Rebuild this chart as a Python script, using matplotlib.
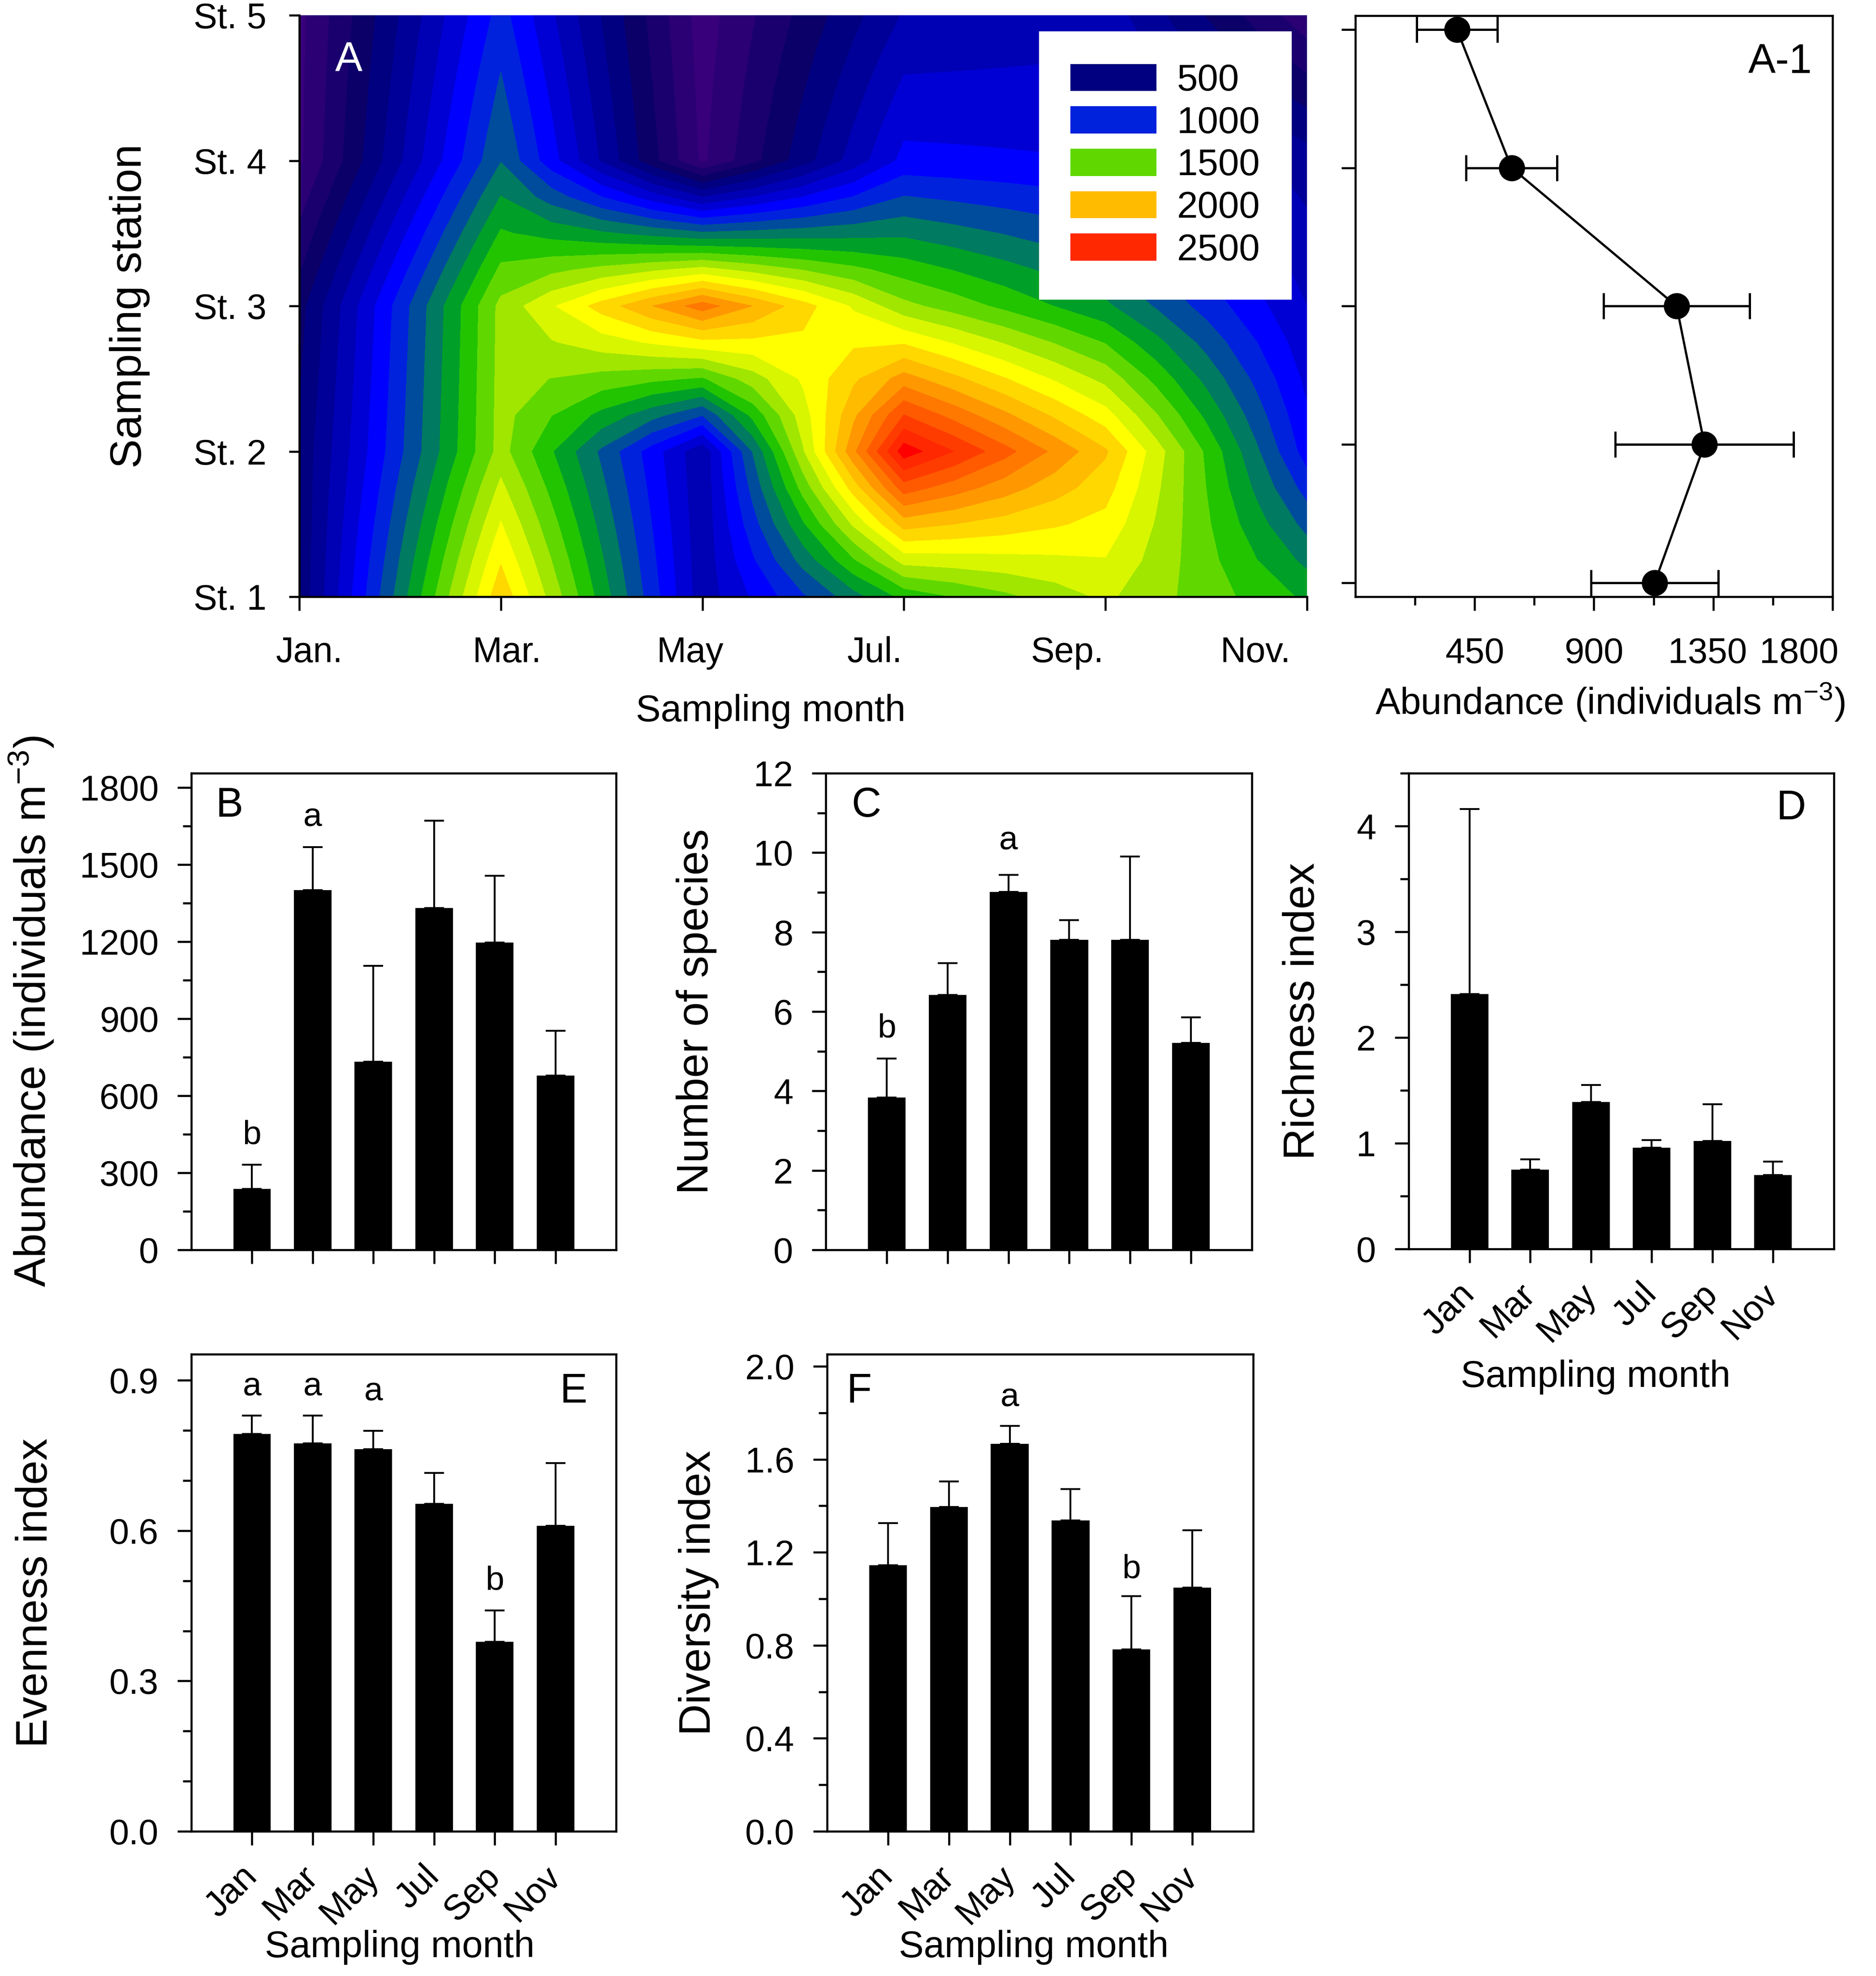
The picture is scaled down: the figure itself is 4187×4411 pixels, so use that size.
import numpy as np
import matplotlib
matplotlib.use('Agg')
import matplotlib.pyplot as plt
import matplotlib.transforms as mtransforms
from matplotlib.patches import Patch
from matplotlib.ticker import MultipleLocator

plt.rcParams['font.family'] = ['Liberation Sans', 'DejaVu Sans']
plt.rcParams['mathtext.fontset'] = 'custom'
plt.rcParams['mathtext.rm'] = 'Liberation Sans'
plt.rcParams['mathtext.default'] = 'regular'
plt.rcParams['axes.linewidth'] = 1.1

# ---- data ----
months = ['Jan', 'Mar', 'May', 'Jul', 'Sep', 'Nov']
month_ticks_a = ['Jan.', 'Mar.', 'May', 'Jul.', 'Sep.', 'Nov.']
stations = ['St. 1', 'St. 2', 'St. 3', 'St. 4', 'St. 5']

# abundance per station (rows) and month (columns) for the contour map
abund_st1 = [520, 1975, 740, 1430, 1720, 1380]
abund_st2 = [520, 1640, 720, 2660, 2015, 950]
abund_st3 = [460, 1630, 2255, 1630, 1320, 800]
abund_st4 = [180, 1195, 180, 930, 900, 650]
abund_st5 = [170, 1040, 150, 710, 760, 230]

# A-1: station mean +- SE
station_mean = [1129, 1317, 1212, 589, 383]
station_se = [240, 337, 275, 171, 152]

# B-F: monthly mean +- SE
abundance = [237, 1400, 732, 1330, 1196, 678]
abundance_se = [94, 167, 373, 340, 259, 174]
species = [3.83, 6.42, 9.01, 7.80, 7.80, 5.21]
species_se = [0.99, 0.80, 0.43, 0.50, 2.10, 0.64]
richness = [2.41, 0.75, 1.39, 0.96, 1.02, 0.70]
richness_se = [1.75, 0.10, 0.16, 0.07, 0.35, 0.125]
evenness = [0.793, 0.774, 0.762, 0.653, 0.378, 0.610]
evenness_se = [0.036, 0.055, 0.037, 0.062, 0.063, 0.125]
diversity = [1.145, 1.394, 1.666, 1.337, 0.782, 1.049]
diversity_se = [0.181, 0.110, 0.077, 0.135, 0.230, 0.245]

# significance letters (text, month index, y)
sig_b = [('b', 0, 446), ('a', 1, 1682)]
sig_c = [('b', 0, 5.57), ('a', 2, 10.3)]
sig_e = [('a', 0, 0.887), ('a', 1, 0.887), ('a', 2, 0.877), ('b', 4, 0.50)]
sig_f = [('a', 2, 1.865), ('b', 4, 1.127)]

levels = np.arange(0, 2800, 100)
band_colors = ['#44007f', '#38007a', '#2a0074', '#1a006e', '#0a0068',
               '#000080', '#000098', '#0000b4', '#0000d4', '#0000ff',
               '#0022dd', '#004c9c', '#007a60', '#00a028', '#22c400',
               '#60d800', '#a0e600', '#d8f600', '#ffff00', '#ffd800',
               '#ffbb00', '#ff9800', '#ff7800', '#ff5a00', '#ff3c00',
               '#ff2800', '#ff0000']
legend_levels = [500, 1000, 1500, 2000, 2500]

TICK = 19
LAB = 20
YLAB = 23.5
LET = 22

fig = plt.figure(figsize=(4187 / 300, 4411 / 300), dpi=300)


def style_ticks(ax):
    ax.tick_params(which='major', direction='out', length=7.5, width=1.1, labelsize=TICK)
    ax.tick_params(which='minor', direction='out', length=4.5, width=1.1)


# ---- A: contour map ----
ax_a = fig.add_axes([0.1595, 0.698, 0.5372, 0.2943])
mx = np.arange(1, 12, 2)
sy = np.arange(1, 6)
Z = np.array([abund_st1, abund_st2, abund_st3, abund_st4, abund_st5], dtype=float)
# contouring mesh (half month x quarter station), filled bilinearly like the original software
xf = np.arange(1, 11.01, 0.5)
yf = np.arange(1, 5.01, 0.25)
rows = np.array([np.interp(xf, mx, Z[j]) for j in range(len(sy))])
Zf = np.array([np.interp(yf, sy, rows[:, i]) for i in range(len(xf))]).T
ax_a.contourf(xf, yf, Zf, levels=levels, colors=band_colors)
ax_a.set_xlim(1, 11)
ax_a.set_ylim(1, 5)
ax_a.set_xticks(mx)
ax_a.set_xticklabels([])
ax_a.set_xticks([1.1, 3.06, 4.88, 6.71, 8.62, 10.49], minor=True)
ax_a.set_xticklabels(month_ticks_a, minor=True)
ax_a.set_yticks(sy)
ax_a.set_yticklabels(stations)
ax_a.tick_params(axis='x', which='major', direction='out', length=7.5, width=1.1)
ax_a.tick_params(axis='x', which='minor', length=0, pad=21, labelsize=TICK)
ax_a.tick_params(axis='y', direction='out', length=5.5, width=1.1, pad=12, labelsize=TICK)
ax_a.spines['top'].set_visible(False)
ax_a.spines['right'].set_visible(False)
ax_a.set_xlabel('Sampling month', fontsize=LAB, va='center')
ax_a.xaxis.set_label_coords(0.468, -0.197)
ax_a.set_ylabel('Sampling station', fontsize=YLAB, va='center')
ax_a.yaxis.set_label_coords(-0.168, 0.5)
ax_a.text(0.049, 0.922, 'A', transform=ax_a.transAxes, color='white',
          fontsize=LET, ha='center', va='center')
handles = [Patch(facecolor=band_colors[int(v / 100)], edgecolor='none') for v in legend_levels]
leg = ax_a.legend(handles, [str(v) for v in legend_levels], loc='upper right',
                  bbox_to_anchor=(0.985, 0.972), borderaxespad=0, fontsize=20,
                  handlelength=2.3, handleheight=0.74, handletextpad=0.55,
                  labelspacing=0.2, borderpad=0.85, fancybox=False, framealpha=1)
leg.get_frame().set_edgecolor('white')
leg.get_frame().set_linewidth(0)

# ---- A-1: station profile ----
ax_a1 = fig.add_axes([0.7225, 0.698, 0.2543, 0.2941])
ax_a1.errorbar(station_mean, sy, xerr=station_se, fmt='-o', color='k', ms=13,
               lw=1.2, elinewidth=1.2, capsize=7, capthick=1.2)
ax_a1.set_xlim(0, 1800)
ax_a1.set_ylim(0.9, 5.1)
ax_a1.set_xticks([450, 900, 1350, 1800])
ax_a1.set_xticks([225, 675, 1125, 1575], minor=True)
ax_a1.set_yticks(sy)
ax_a1.set_yticklabels([])
style_ticks(ax_a1)
ax_a1.tick_params(axis='x', which='major', pad=14)
# the original nudges the last two labels left so 1800 stays inside the frame
for lbl, dx in zip(ax_a1.get_xticklabels()[2:], [-3, -18]):
    lbl.set_transform(lbl.get_transform() +
                      mtransforms.ScaledTranslation(dx / 72, 0, fig.dpi_scale_trans))
ax_a1.set_xlabel('Abundance (individuals m$^{-3}$)', fontsize=LAB, va='center')
ax_a1.xaxis.set_label_coords(0.534, -0.182)
ax_a1.text(0.89, 0.92, 'A-1', transform=ax_a1.transAxes, fontsize=LET,
           ha='center', va='center')


# ---- B-F: bar panels ----
def bar_panel(rect, means, errs, ylim, major, minor, ylabel, ylab_x, letter,
              letter_xy, sig, show_months=False, xlab_xy=None):
    ax = fig.add_axes(rect)
    x = np.arange(1, len(means) + 1)
    ax.bar(x, means, width=0.62, color='k')
    ax.errorbar(x, means, yerr=[np.zeros(len(errs)), errs], fmt='none', ecolor='k',
                elinewidth=1.0, capsize=5.2, capthick=1.0)
    ax.set_xlim(0, 7)
    ax.set_ylim(*ylim)
    ax.set_xticks(x)
    ax.yaxis.set_major_locator(MultipleLocator(major))
    ax.yaxis.set_minor_locator(MultipleLocator(minor))
    style_ticks(ax)
    ax.tick_params(axis='y', pad=10)
    if show_months:
        ax.set_xticklabels(months, rotation=45, ha='right', va='center',
                           rotation_mode='anchor', fontsize=TICK)
        ax.tick_params(axis='x', pad=14)
        ax.set_xlabel('Sampling month', fontsize=LAB, va='center')
        ax.xaxis.set_label_coords(*xlab_xy)
    else:
        ax.set_xticklabels([])
    ax.set_ylabel(ylabel, fontsize=YLAB, va='center')
    ax.yaxis.set_label_coords(ylab_x, 0.5)
    ax.text(letter_xy[0], letter_xy[1], letter, transform=ax.transAxes,
            fontsize=LET, ha='center', va='center')
    for s, i, yv in sig:
        ax.text(x[i], yv, s, fontsize=18, ha='center', va='center')
    return ax


bar_panel([0.102, 0.3675, 0.2264, 0.2412], abundance, abundance_se, (0, 1855), 300, 150,
          'Abundance (individuals m$^{-3}$)', -0.377, 'B', (0.09, 0.931), sig_b)
bar_panel([0.4402, 0.3675, 0.2271, 0.2412], species, species_se, (0, 12), 2, 1,
          'Number of species', -0.304, 'C', (0.095, 0.931), sig_c)
bar_panel([0.7509, 0.3679, 0.2266, 0.2408], richness, richness_se, (0, 4.5), 1, 0.5,
          'Richness index', -0.249, 'D', (0.9, 0.926), [],
          show_months=True, xlab_xy=(0.44, -0.269))
bar_panel([0.102, 0.0732, 0.2264, 0.2415], evenness, evenness_se, (0, 0.952), 0.3, 0.1,
          'Evenness index', -0.367, 'E', (0.9, 0.921), sig_e,
          show_months=True, xlab_xy=(0.49, -0.243))
bar_panel([0.4409, 0.0732, 0.2271, 0.2415], diversity, diversity_se, (0, 2.052), 0.4, 0.2,
          'Diversity index', -0.301, 'F', (0.075, 0.921), sig_f,
          show_months=True, xlab_xy=(0.485, -0.243))

fig.savefig('out.png', dpi=300)
